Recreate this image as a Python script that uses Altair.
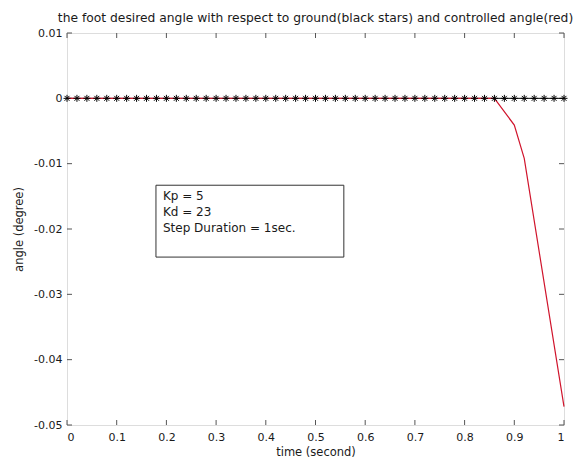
import altair as alt
import pandas as pd

# ---- data ----
star_time = [0.00, 0.02, 0.04, 0.06, 0.08, 0.10, 0.12, 0.14, 0.16, 0.18,
             0.20, 0.22, 0.24, 0.26, 0.28, 0.30, 0.32, 0.34, 0.36, 0.38,
             0.40, 0.42, 0.44, 0.46, 0.48, 0.50, 0.52, 0.54, 0.56, 0.58,
             0.60, 0.62, 0.64, 0.66, 0.68, 0.70, 0.72, 0.74, 0.76, 0.78,
             0.80, 0.82, 0.84, 0.86, 0.88, 0.90, 0.92, 0.94, 0.96, 0.98,
             1.00]
star_angle = [0, 0, 0, 0, 0, 0, 0, 0, 0, 0,
              0, 0, 0, 0, 0, 0, 0, 0, 0, 0,
              0, 0, 0, 0, 0, 0, 0, 0, 0, 0,
              0, 0, 0, 0, 0, 0, 0, 0, 0, 0,
              0, 0, 0, 0, 0, 0, 0, 0, 0, 0,
              0]
red_time = [0.0, 0.86, 0.90, 0.92, 1.00]
red_angle = [0.0, 0.0, -0.0041, -0.0092, -0.0472]

x_ticks = [0, 0.1, 0.2, 0.3, 0.4, 0.5, 0.6, 0.7, 0.8, 0.9, 1]
y_ticks = [0.01, 0, -0.01, -0.02, -0.03, -0.04, -0.05]
box_lines = ["Kp = 5", "Kd = 23", "Step Duration = 1sec."]
title_text = "the foot desired angle with respect to ground(black stars) and controlled angle(red)"

# ---- styling ----
W, H = 497, 392
FONT = "DejaVu Sans"
TXT = "#1a1a1a"
FRAME = "#555555"
RED = "#d0142c"
STAR = "M0,-1L0,1M-1,0L1,0M-0.7,-0.7L0.7,0.7M-0.7,0.7L0.7,-0.7"
TICK = 5

stars_df = pd.DataFrame({"t": star_time, "a": star_angle})
red_df = pd.DataFrame({"t": red_time, "a": red_angle})
xt_df = pd.DataFrame({"v": x_ticks})
yt_df = pd.DataFrame({"v": y_ticks})
box_df = pd.DataFrame({"txt": ["\n".join(box_lines)]})

xscale = alt.Scale(domain=[0, 1], nice=False, zero=False)
yscale = alt.Scale(domain=[-0.05, 0.01], nice=False, zero=False)

xaxis = alt.Axis(values=x_ticks, ticks=False, domain=False, grid=False,
                 labelExpr="toString(round(datum.value*10)/10)",
                 labelPadding=6, labelFont=FONT, labelFontSize=11, labelColor=TXT,
                 title="time (second)", titlePadding=4, titleFont=FONT,
                 titleFontSize=11.5, titleFontWeight="normal", titleColor=TXT)
yaxis = alt.Axis(values=y_ticks, ticks=False, domain=False, grid=False,
                 labelExpr="toString(round(datum.value*100)/100)",
                 labelPadding=5, labelFont=FONT, labelFontSize=11, labelColor=TXT,
                 title="angle (degree)", titlePadding=9, titleFont=FONT,
                 titleFontSize=11.5, titleFontWeight="normal", titleColor=TXT)

black_line = alt.Chart(stars_df).mark_line(color="black", strokeWidth=1).encode(
    x=alt.X("t:Q", scale=xscale, axis=xaxis),
    y=alt.Y("a:Q", scale=yscale, axis=yaxis),
)
red_line = alt.Chart(red_df).mark_line(color=RED, strokeWidth=1.2).encode(
    x="t:Q", y="a:Q")
stars = alt.Chart(stars_df).mark_point(
    shape=STAR, size=49, filled=False, stroke="black", strokeWidth=1, opacity=1
).encode(x="t:Q", y="a:Q")

# inward ticks on all four sides
xt_bottom = alt.Chart(xt_df).mark_rule(color=FRAME, strokeWidth=1).encode(
    x="v:Q", y=alt.value(H), y2=alt.value(H - TICK))
xt_top = alt.Chart(xt_df).mark_rule(color=FRAME, strokeWidth=1).encode(
    x="v:Q", y=alt.value(0), y2=alt.value(TICK))
yt_left = alt.Chart(yt_df).mark_rule(color=FRAME, strokeWidth=1).encode(
    y="v:Q", x=alt.value(0), x2=alt.value(TICK))
yt_right = alt.Chart(yt_df).mark_rule(color=FRAME, strokeWidth=1).encode(
    y="v:Q", x=alt.value(W - TICK), x2=alt.value(W))

box = alt.Chart(box_df).mark_rect(fill="white", stroke="#333333", strokeWidth=1).encode(
    x=alt.datum(0.179), x2=alt.datum(0.557),
    y=alt.datum(-0.0133), y2=alt.datum(-0.0243))
box_text = alt.Chart(box_df).mark_text(
    align="left", baseline="top", font=FONT, fontSize=12, lineHeight=16,
    lineBreak="\n", color=TXT
).encode(x=alt.datum(0.193), y=alt.datum(-0.0142), text="txt:N")

chart = alt.layer(
    xt_bottom, xt_top, yt_left, yt_right,
    black_line, red_line, stars, box, box_text
).properties(
    width=W, height=H,
    title=alt.TitleParams(text=title_text, font=FONT, fontSize=12.3,
                          fontWeight="normal", color=TXT, anchor="middle", offset=3),
    autosize=alt.AutoSizeParams(type="none"),
    padding={"left": 59, "top": 25, "right": 12, "bottom": 34},
).configure_view(stroke=FRAME, strokeWidth=1).configure(background="white")

chart.save("out.html", embed_options={"renderer": "svg", "actions": False})
